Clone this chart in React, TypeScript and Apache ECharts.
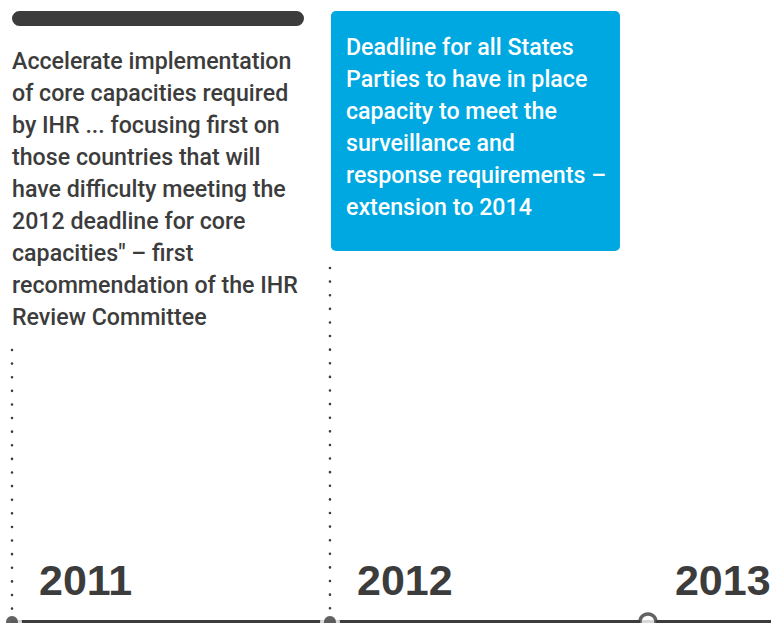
import React, { useEffect, useRef } from "react";
import * as echarts from "echarts";

// ---- data ----
const timelineYears = [2011, 2012, 2013];
const eventYears = [2011, 2012];
const upcomingYears = [2013];
const milestoneYears = [2011, 2012];
const milestoneBoxed = [false, true];
const milestoneLines = [
  [
    "Accelerate implementation",
    "of core capacities required",
    "by IHR ... focusing first on",
    "those countries that will",
    "have difficulty meeting the",
    "2012 deadline for core",
    "capacities\" – first",
    "recommendation of the IHR",
    "Review Committee",
  ],
  [
    "Deadline for all States",
    "Parties to have in place",
    "capacity to meet the",
    "surveillance and",
    "response requirements –",
    "extension to 2014",
  ],
];

// ---- style / layout ----
const DARK = "#3c3c3c";
const BLUE = "#00a8e1";
const BASE = 622; // vertical scale: 0 (top) .. BASE (timeline)
const TEXT_FONT = "Roboto";
const TEXT_SIZE = 23.2;

export default function App() {
  const ref = useRef<HTMLDivElement>(null);

  useEffect(() => {
    if (!ref.current) return;
    const chart = echarts.init(ref.current, null, { renderer: "svg" });

    const renderItem = (params: any, api: any) => {
      const idx = params.dataIndex;
      const x = api.coord([api.value(0), 0])[0];
      const lines = milestoneLines[idx];
      const boxed = milestoneBoxed[idx];
      const children: any[] = [];
      let dotStart = 0;
      if (boxed) {
        const boxTop = api.coord([api.value(0), 11])[1];
        const textTop = boxTop + 20;
        const boxH = 20 + lines.length * 32 + 28;
        children.push({
          type: "rect",
          shape: { x: x + 1, y: boxTop, width: 289, height: boxH, r: 5 },
          style: { fill: BLUE },
        });
        children.push({
          type: "text",
          style: {
            x: x + 16,
            y: textTop,
            text: lines.join("\n"),
            fill: "#ffffff",
            fontFamily: TEXT_FONT,
            fontWeight: 500,
            fontSize: TEXT_SIZE,
            lineHeight: 32,
            verticalAlign: "top",
            align: "left",
          },
        });
        dotStart = boxTop + boxH + 17;
      } else {
        const barTop = api.coord([api.value(0), 11])[1];
        children.push({
          type: "rect",
          shape: { x: x, y: barTop, width: 292, height: 15, r: 7.5 },
          style: { fill: DARK },
        });
        const textTop = barTop + 34;
        children.push({
          type: "text",
          style: {
            x: x,
            y: textTop,
            text: lines.join("\n"),
            fill: DARK,
            fontFamily: TEXT_FONT,
            fontWeight: 500,
            fontSize: TEXT_SIZE,
            lineHeight: 32,
            verticalAlign: "top",
            align: "left",
          },
        });
        dotStart = textTop + lines.length * 32 + 17;
      }
      const dotEnd = api.coord([api.value(0), BASE - 12])[1];
      children.push({
        type: "line",
        shape: { x1: x, y1: dotStart, x2: x, y2: dotEnd },
        style: {
          stroke: DARK,
          lineWidth: 2.6,
          lineDash: [0.01, 13.6],
          lineCap: "round",
        },
      });
      return { type: "group", children };
    };

    chart.setOption({
      animation: false,
      grid: {
        left: 12,
        right: 0,
        top: 0,
        bottom: 1,
        containLabel: false,
        outerBoundsMode: "none",
      },
      xAxis: {
        type: "value",
        position: "bottom",
        min: timelineYears[0],
        max: 2013.387,
        interval: 1,
        splitLine: { show: false },
        axisTick: { show: false },
        axisLine: { show: true, onZero: false, lineStyle: { color: DARK, width: 4 } },
        axisLabel: {
          inside: true,
          margin: 42,
          align: "left",
          verticalAlign: "middle",
          padding: [0, 0, 0, 27],
          showMaxLabel: false,
          showMinLabel: true,
          formatter: (v: number) => String(v),
          color: DARK,
          fontFamily: "Liberation Sans",
          fontWeight: "bold",
          fontSize: 43,
        },
      },
      yAxis: { type: "value", min: 0, max: BASE, inverse: true, show: false },
      series: [
        {
          type: "custom",
          clip: false,
          renderItem,
          data: milestoneYears.map((y, i) => [y, i]),
          z: 3,
        },
        {
          type: "scatter",
          clip: false,
          symbol: "circle",
          symbolSize: 20,
          itemStyle: { color: "#ffffff" },
          data: eventYears.map((y) => [y, BASE]),
          z: 4,
          silent: true,
        },
        {
          type: "scatter",
          clip: false,
          symbol: "circle",
          symbolSize: 12,
          itemStyle: { color: DARK },
          data: eventYears.map((y) => [y, BASE]),
          z: 5,
          silent: true,
        },
        {
          type: "scatter",
          clip: false,
          symbol: "circle",
          symbolSize: 16,
          itemStyle: { color: "#ffffff", borderColor: DARK, borderWidth: 3.5 },
          data: upcomingYears.map((y) => [y, BASE]),
          z: 5,
          silent: true,
        },
      ],
    });

    return () => chart.dispose();
  }, []);

  return (
    <div
      ref={ref}
      style={{ position: "absolute", left: 0, top: 0, width: 771, height: 623 }}
    />
  );
}
